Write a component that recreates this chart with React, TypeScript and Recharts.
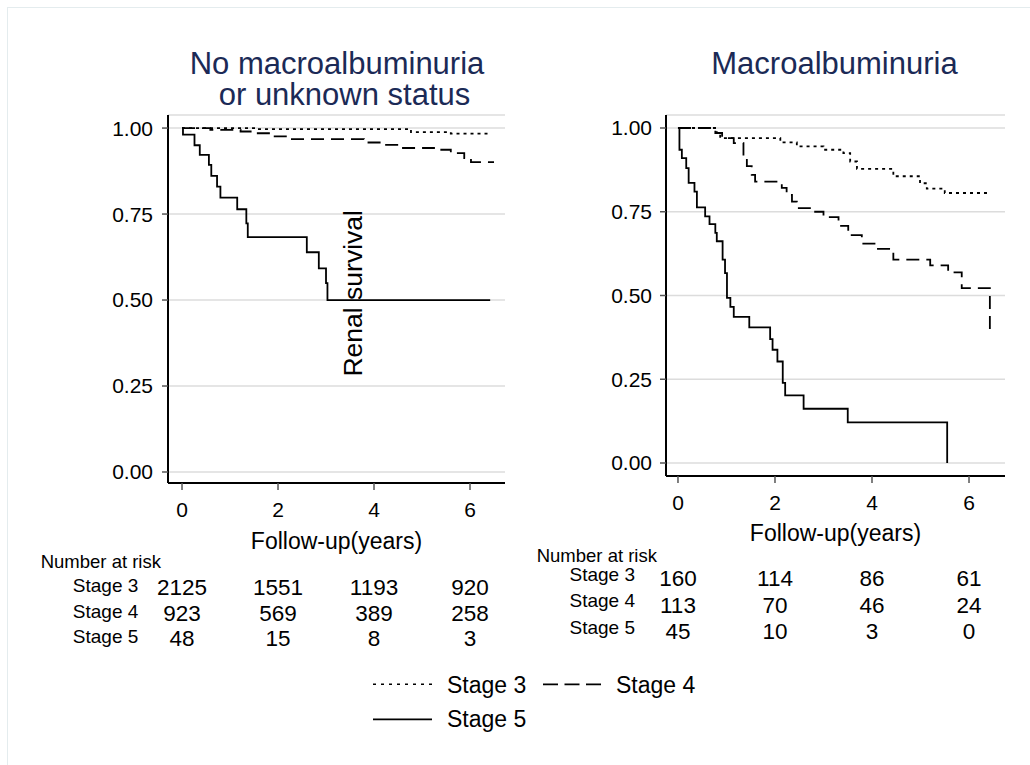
import { CartesianGrid, Line, LineChart, XAxis, YAxis } from 'recharts'

type Pt = [number, number]

const stageNames = ['Stage 3', 'Stage 4', 'Stage 5']
const riskTicks = [0, 2, 4, 6]
const survivalTicks = [0, 0.25, 0.5, 0.75, 1]

// No macroalbuminuria or unknown status: [years, survival]
const noMacroStage3: Pt[] = [
  [0, 1], [1.57, 0.997], [4.77, 0.988], [5.6, 0.984], [6.42, 0.983],
]
const noMacroStage4: Pt[] = [
  [0, 1], [0.59, 0.995], [1.22, 0.99], [1.5, 0.985], [1.91, 0.976], [2.19, 0.968],
  [3.79, 0.958], [4.21, 0.951], [4.56, 0.942], [5.25, 0.937], [5.6, 0.927],
  [5.88, 0.913], [6.02, 0.901], [6.5, 0.901],
]
const noMacroStage5: Pt[] = [
  [0, 1], [0.02, 0.981], [0.26, 0.95], [0.37, 0.922], [0.56, 0.893], [0.61, 0.861],
  [0.73, 0.83], [0.8, 0.798], [1.15, 0.764], [1.34, 0.723], [1.37, 0.683],
  [2.6, 0.639], [2.85, 0.592], [3.0, 0.549], [3.03, 0.5], [6.42, 0.5],
]
const noMacroRisk3 = [2125, 1551, 1193, 920]
const noMacroRisk4 = [923, 569, 389, 258]
const noMacroRisk5 = [48, 15, 8, 3]

// Macroalbuminuria
const macroStage3: Pt[] = [
  [0, 1], [0.8, 0.985], [0.87, 0.97], [2.11, 0.957], [2.45, 0.945], [3.0, 0.935],
  [3.41, 0.925], [3.55, 0.9], [3.69, 0.878], [4.44, 0.856], [4.99, 0.835],
  [5.13, 0.819], [5.5, 0.806], [6.43, 0.806],
]
const macroStage4: Pt[] = [
  [0, 1], [0.77, 0.985], [0.91, 0.97], [1.15, 0.955], [1.35, 0.91], [1.42, 0.886],
  [1.52, 0.86], [1.59, 0.84], [2.14, 0.821], [2.24, 0.8], [2.35, 0.78], [2.45, 0.761],
  [2.72, 0.75], [3.0, 0.734], [3.31, 0.708], [3.51, 0.68], [3.79, 0.655], [4.1, 0.639],
  [4.44, 0.607], [5.2, 0.59], [5.57, 0.569], [5.85, 0.522], [6.43, 0.398],
]
const macroStage5: Pt[] = [
  [0, 1], [0.03, 0.935], [0.08, 0.91], [0.17, 0.88], [0.22, 0.836], [0.34, 0.81],
  [0.39, 0.763], [0.56, 0.736], [0.65, 0.713], [0.77, 0.687], [0.8, 0.662],
  [0.92, 0.607], [0.97, 0.567], [1.01, 0.493], [1.08, 0.466], [1.15, 0.436],
  [1.47, 0.405], [1.9, 0.37], [1.95, 0.338], [2.05, 0.303], [2.16, 0.239],
  [2.21, 0.202], [2.59, 0.162], [3.5, 0.121], [5.55, 0],
]
const macroRisk3 = [160, 114, 86, 61]
const macroRisk4 = [113, 70, 46, 24]
const macroRisk5 = [45, 10, 3, 0]

const dashes = ['3 4', '13 7', undefined]
const NAVY = '#1b2a56'

const toRows = (pts: Pt[]) => pts.map(([t, s]) => ({ t, s }))

// year tick + the number-at-risk column under it
function RiskTick(props: any) {
  const { x, y, payload, risks, rowOffsets } = props
  const idx = riskTicks.indexOf(payload.value)
  return (
    <g>
      <text x={x} y={y} dy="0.71em" textAnchor="middle" fontSize={21} fill="#000">
        {payload.value}
      </text>
      {risks.map((row: number[], i: number) => (
        <text key={i} x={x} y={y + rowOffsets[i]} textAnchor="middle" fontSize={22.5} fill="#000">
          {row[idx]}
        </text>
      ))}
    </g>
  )
}

interface PanelProps {
  curves: Pt[][]
  risks: number[][]
  rowOffsets: number[]
  left: number
  width: number
  margin: { top: number; right: number; bottom: number; left: number }
  xDomain: [number, number]
  yDomain: [number, number]
  labelOffset: number
  yTickMargin: number
}

function Panel(p: PanelProps) {
  return (
    <div style={{ position: 'absolute', left: p.left, top: 0 }}>
      <LineChart width={p.width} height={680} margin={p.margin}>
        <CartesianGrid vertical={false} stroke="#dcdcdc" strokeWidth={1.6} />
        <YAxis
          type="number"
          domain={p.yDomain}
          allowDataOverflow
          ticks={survivalTicks}
          interval={0}
          width={60}
          tickSize={6}
          tickMargin={p.yTickMargin}
          tickFormatter={(v: number) => v.toFixed(2)}
          tick={{ fill: '#000', fontSize: 21 }}
          axisLine={{ stroke: '#000', strokeWidth: 2 }}
          tickLine={{ stroke: '#555', strokeWidth: 1.5 }}
        />
        <XAxis
          type="number"
          dataKey="t"
          domain={p.xDomain}
          allowDataOverflow
          ticks={riskTicks}
          interval={0}
          height={160}
          tickSize={7}
          tickMargin={12}
          tick={<RiskTick risks={p.risks} rowOffsets={p.rowOffsets} />}
          axisLine={{ stroke: '#000', strokeWidth: 2 }}
          tickLine={{ stroke: '#555', strokeWidth: 1.5 }}
          label={{ value: 'Follow-up(years)', position: 'insideTop', offset: p.labelOffset, fontSize: 23, fill: '#000' }}
        />
        {p.curves.map((pts, i) => (
          <Line
            key={stageNames[i]}
            data={toRows(pts)}
            dataKey="s"
            type="stepAfter"
            stroke="#000"
            strokeWidth={1.8}
            strokeDasharray={dashes[i]}
            dot={false}
            activeDot={false}
            isAnimationActive={false}
            name={stageNames[i]}
          />
        ))}
      </LineChart>
    </div>
  )
}

export default function App() {
  return (
    <div
      style={{
        position: 'absolute', left: 0, top: 0, width: 1030, height: 765, overflow: 'hidden',
        background: '#fff', fontFamily: '"Liberation Sans", Arial, sans-serif',
      }}
    >
      <div style={{ position: 'absolute', left: 7, top: 7, width: 1100, height: 900, border: '1px solid #e4ecee' }} />
      <Panel
        curves={[noMacroStage3, noMacroStage4, noMacroStage5]}
        risks={[noMacroRisk3, noMacroRisk4, noMacroRisk5]}
        rowOffsets={[93.1, 118.6, 144.1]}
        left={0}
        width={520}
        margin={{ top: 115, right: 15, bottom: 37, left: 108 }}
        xDomain={[-0.292, 6.729]}
        yDomain={[-0.032, 1.038]}
        labelOffset={50}
        yTickMargin={9}
      />
      <Panel
        curves={[macroStage3, macroStage4, macroStage5]}
        risks={[macroRisk3, macroRisk4, macroRisk5]}
        rowOffsets={[90.5, 117.5, 143.8]}
        left={520}
        width={510}
        margin={{ top: 115, right: 25, bottom: 44, left: 86 }}
        xDomain={[-0.247, 6.742]}
        yDomain={[-0.0388, 1.0388]}
        labelOffset={49}
        yTickMargin={8}
      />
      <svg width={1030} height={765} style={{ position: 'absolute', left: 0, top: 0, pointerEvents: 'none' }}>
        <text x={337} y={74.3} textAnchor="middle" fontSize={31} fill={NAVY}>No macroalbuminuria</text>
        <text x={344.5} y={105.3} textAnchor="middle" fontSize={31} fill={NAVY}>or unknown status</text>
        <text x={834.5} y={74.3} textAnchor="middle" fontSize={31} fill={NAVY}>Macroalbuminuria</text>
        <text x={362.3} y={293.3} textAnchor="middle" fontSize={26.5} fill="#000" transform="rotate(-90, 362.3, 293.3)">
          Renal survival
        </text>
        <text x={40.7} y={568} fontSize={18.5} fill="#000">Number at risk</text>
        <text x={536.7} y={561.7} fontSize={18.5} fill="#000">Number at risk</text>
        {stageNames.map((name, i) => (
          <text key={`l${name}`} x={138.3} y={592.1 + i * 25.5} textAnchor="end" fontSize={19} fill="#000">{name}</text>
        ))}
        {stageNames.map((name, i) => (
          <text key={`r${name}`} x={635} y={580.8 + i * 26.6} textAnchor="end" fontSize={19} fill="#000">{name}</text>
        ))}
        <line x1={373} x2={432} y1={684.3} y2={684.3} stroke="#000" strokeWidth={1.6} strokeDasharray="3 5" />
        <text x={447} y={693.3} fontSize={23} fill="#000">{stageNames[0]}</text>
        <line x1={543} x2={601} y1={684.3} y2={684.3} stroke="#000" strokeWidth={1.8} strokeDasharray="15 6.5" />
        <text x={616} y={693.3} fontSize={23} fill="#000">{stageNames[1]}</text>
        <line x1={373} x2={432} y1={719.3} y2={719.3} stroke="#000" strokeWidth={1.8} />
        <text x={447} y={726.7} fontSize={23} fill="#000">{stageNames[2]}</text>
      </svg>
    </div>
  )
}
